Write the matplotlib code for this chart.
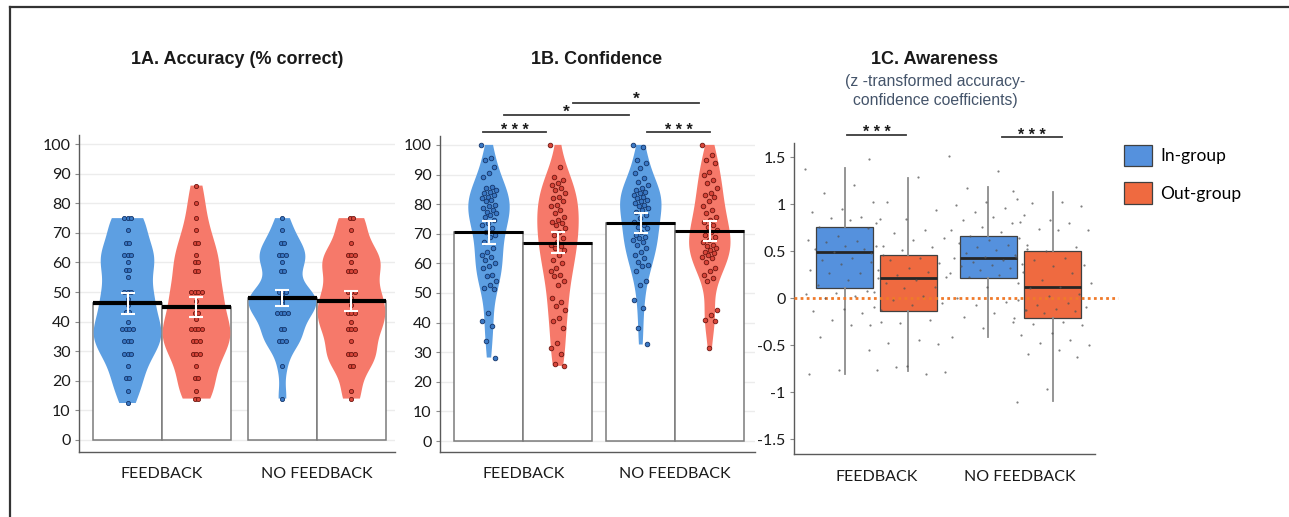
import matplotlib
matplotlib.use('Agg')
import matplotlib.pyplot as plt
import numpy as np
from matplotlib.lines import Line2D
from matplotlib.patches import Patch

plt.rcParams['font.family'] = ['Lato', 'DejaVu Sans']

# ---------------- data ----------------
conditions = ['FEEDBACK', 'NO FEEDBACK']
groups = ['In-group', 'Out-group']

# 1A. Accuracy (% correct) - individual participants
acc_fb_in = [75, 75, 75, 71, 66.7, 66.7, 62.5, 62.5, 62.5, 60, 57.5, 57.5, 55, 50, 50, 50,
             47.5, 45.8, 43.3, 43.3, 40, 37.5, 37.5, 37.5, 37.5, 33.3, 33.3, 33.3,
             29.2, 29.2, 29.2, 25, 20.8, 20.8, 16.7, 12.5]
acc_fb_out = [86, 80, 75, 71, 66.7, 66.7, 62.5, 60, 60, 57, 57, 50, 50, 50, 50, 47, 43, 43,
              41, 37.5, 37.5, 37.5, 37.5, 33.3, 33.3, 33.3, 29, 29, 29, 25, 20.8, 20.8,
              16.7, 14, 14]
acc_nf_in = [75, 71, 66.7, 66.7, 62.5, 62.5, 62.5, 60, 57, 57, 50, 50, 50, 49, 48, 47, 46,
             43, 43, 43, 43, 37.5, 37.5, 33.3, 33.3, 33.3, 25, 14]
acc_nf_out = [75, 75, 71, 66.7, 62.5, 62.5, 62.5, 60, 57, 57, 57, 50, 50, 50, 48, 45.8, 43,
              43, 43, 40, 37.5, 37.5, 37.5, 33.3, 29, 29, 29, 25, 25, 16.7, 14]
acc_means = [46.2, 45.0, 48.0, 47.0]      # FB in, FB out, NF in, NF out
acc_se = [3.6, 3.5, 2.6, 3.5]

# 1B. Confidence - individual participants
conf_fb_in = [100, 95.5, 94.9, 92.7, 90.4, 89.3, 85.9, 85.4, 84.8, 84.2, 83.7, 83.1, 82.5,
              82.0, 81.4, 80.9, 79.7, 79.2, 78.6, 78.0, 77.5, 76.9, 76.3, 75.8, 74.6, 73.5,
              72.9, 71.8, 70.7, 69.6, 69.0, 67.3, 65.1, 64.0, 62.9, 62.3, 61.2, 60.1, 59.0,
              58.4, 56.2, 55.6, 53.9, 52.8, 51.7, 51.2, 43.3, 40.5, 38.8, 33.8, 28.2]
conf_fb_out = [100, 92.7, 89.3, 88.2, 87.1, 86.5, 85.4, 84.8, 83.7, 82.5, 82.0, 80.9, 79.7,
               79.2, 78.0, 76.9, 75.8, 74.6, 74.1, 73.5, 72.9, 71.8, 70.7, 69.6, 68.5, 67.3,
               66.2, 65.7, 65.1, 64.6, 62.9, 61.2, 60.1, 58.4, 57.3, 56.2, 55.6, 53.9, 52.8,
               48.3, 47.1, 45.5, 44.3, 41.6, 40.5, 38.2, 33.2, 31.5, 29.3, 25.9, 25.4]
conf_nf_in = [100, 99.4, 94.9, 93.8, 92.1, 90.4, 88.7, 87.6, 86.5, 85.4, 84.8, 84.2, 83.7,
              83.1, 82.5, 82.0, 81.4, 80.9, 80.3, 79.7, 79.2, 78.6, 78.0, 77.5, 76.3, 75.2,
              74.1, 72.9, 72.4, 71.8, 70.7, 69.6, 69.0, 68.5, 67.9, 67.3, 66.2, 65.1, 64.0,
              62.9, 61.8, 60.6, 59.5, 59.0, 57.3, 53.9, 52.8, 47.7, 44.9, 38.2, 32.6]
conf_nf_out = [100, 96.6, 94.9, 93.8, 91.0, 89.9, 88.2, 87.1, 85.4, 83.7, 83.1, 82.5, 80.9,
               79.2, 78.0, 76.9, 75.8, 74.6, 74.1, 72.9, 72.4, 71.3, 70.7, 69.6, 69.0, 67.9,
               67.3, 66.2, 65.7, 65.1, 64.6, 64.0, 63.4, 62.9, 62.3, 61.8, 60.6, 58.4, 57.3,
               56.2, 55.1, 53.9, 44.3, 42.6, 40.9, 40.4, 31.4]
conf_means = [70.5, 67.0, 73.7, 71.0]
conf_se = [3.8, 3.6, 3.3, 3.3]

# 1C. Awareness - box statistics and individual participants
aw_q1 = [0.106, -0.135, 0.213, -0.207]
aw_med = [0.49, 0.22, 0.426, 0.124]
aw_q3 = [0.756, 0.461, 0.667, 0.50]
aw_lo = [-0.81, -0.775, -0.41, -1.09]
aw_hi = [1.39, 1.28, 1.18, 1.13]
aw_fb_in = [1.38, 1.21, 1.12, 1.02, 0.95, 0.92, 0.87, 0.85, 0.84, 0.83, 0.76, 0.75, 0.66,
            0.62, 0.61, 0.60, 0.56, 0.56, 0.53, 0.52, 0.49, 0.46, 0.43, 0.41, 0.39, 0.37,
            0.30, 0.27, 0.27, 0.22, 0.20, 0.14, 0.08, 0.06, 0.05, 0.02, 0.0, -0.09, -0.11,
            -0.13, -0.16, -0.23, -0.25, -0.28, -0.41, -0.55, -0.76, -0.81]
aw_fb_out = [1.48, 1.29, 1.03, 0.94, 0.84, 0.80, 0.73, 0.69, 0.64, 0.62, 0.56, 0.55, 0.51,
             0.48, 0.43, 0.41, 0.38, 0.32, 0.30, 0.28, 0.25, 0.23, 0.20, 0.16, 0.12, 0.11,
             0.07, 0.02, -0.02, -0.05, -0.07, -0.12, -0.23, -0.26, -0.28, -0.44, -0.48,
             -0.49, -0.72, -0.76, -0.81, -0.73, -0.78]
aw_nf_in = [1.52, 1.35, 1.17, 1.06, 1.03, 0.99, 0.96, 0.92, 0.89, 0.87, 0.83, 0.80, 0.76,
            0.73, 0.71, 0.66, 0.64, 0.62, 0.59, 0.57, 0.55, 0.53, 0.51, 0.48, 0.46, 0.44,
            0.43, 0.41, 0.39, 0.37, 0.36, 0.34, 0.32, 0.30, 0.27, 0.25, 0.23, 0.16, 0.12,
            0.0, -0.04, -0.07, -0.12, -0.16, -0.20, -0.25, -0.32, -0.41]
aw_nf_out = [1.14, 1.03, 1.01, 0.98, 0.83, 0.81, 0.80, 0.74, 0.73, 0.73, 0.57, 0.55, 0.50,
             0.44, 0.43, 0.41, 0.36, 0.34, 0.28, 0.27, 0.20, 0.16, 0.12, 0.11, 0.05, 0.02,
             -0.02, -0.05, -0.07, -0.09, -0.11, -0.12, -0.14, -0.16, -0.21, -0.25, -0.27,
             -0.28, -0.37, -0.39, -0.44, -0.48, -0.50, -0.55, -0.59, -0.62, -0.96, -1.10]

pct_ticks = [0, 10, 20, 30, 40, 50, 60, 70, 80, 90, 100]
aw_ticks = [1.5, 1, 0.5, 0, -0.5, -1, -1.5]
aw_ticklabels = ['1.5', '1', '0.5', '0', '-0.5', '-1', '-1.5']

titles = ['1A. Accuracy (% correct)', '1B. Confidence', '1C. Awareness']
subtitle = ['(z -transformed accuracy-', 'confidence coefficients)']

# ---------------- styles ----------------
W, H = 1289, 517
V_BLUE, V_RED = '#5d9fe2', '#f6796a'
P_BLUE, P_BLUE_E = '#3a78c4', '#14356a'
P_RED, P_RED_E = '#d8463a', '#6e1610'
B_BLUE, B_ORANGE = '#5591dd', '#ef6a40'
TXT = '#1a1a1a'
TICK_FS = 11.5

fig = plt.figure(figsize=(W / 100, H / 100), dpi=100)
fig.patch.set_facecolor('white')


def px_axes(l, r, t, b):
    return fig.add_axes([l / W, 1 - b / H, (r - l) / W, (b - t) / H])


def style_axes(ax):
    for s in ['top', 'right']:
        ax.spines[s].set_visible(False)
    for s in ['left', 'bottom']:
        ax.spines[s].set_color('#5a5a5a')
        ax.spines[s].set_linewidth(1.0)
    ax.tick_params(axis='y', length=3, width=0.8, color='#8a8a8a', labelsize=TICK_FS,
                   labelcolor=TXT, pad=3)
    ax.tick_params(axis='x', length=0, labelsize=TICK_FS, labelcolor=TXT, pad=11)


def swarm_offsets(vals, step):
    vals = np.asarray(vals, dtype=float)
    offs = np.zeros(len(vals))
    for v in np.unique(vals):
        idx = np.where(vals == v)[0]
        k = len(idx)
        offs[idx] = (np.arange(k) - (k - 1) / 2) * step
    return offs


def jitter_offsets(n, spread):
    return ((np.arange(n) * 0.6180339887) % 1 - 0.5) * spread


def violin_panel(ax, datasets, means, ses, pos, vwidth, bw, swarm, mean_lw, psize):
    colors = [V_BLUE, V_RED, V_BLUE, V_RED]
    pcols = [(P_BLUE, P_BLUE_E), (P_RED, P_RED_E)] * 2
    ax.bar(pos, means, width=1.0, color='white', edgecolor='#7a7a7a', linewidth=1.1, zorder=1)
    vp = ax.violinplot(datasets, positions=pos, widths=vwidth, showextrema=False,
                       bw_method=bw)
    for body, c in zip(vp['bodies'], colors):
        body.set_facecolor(c)
        body.set_edgecolor('none')
        body.set_alpha(1)
        body.set_zorder(2)
    for d, p, (fc, ec) in zip(datasets, pos, pcols):
        if swarm:
            off = swarm_offsets(d, 0.055)
        else:
            off = jitter_offsets(len(d), 0.22)
        ax.scatter(p + off, d, s=psize, facecolor=fc, edgecolor=ec, linewidth=0.6, zorder=3)
    ax.hlines(means, np.asarray(pos) - 0.5, np.asarray(pos) + 0.5, colors='black',
              linewidth=mean_lw, zorder=4)
    ax.errorbar(pos, means, yerr=ses, fmt='none', ecolor='white', elinewidth=1.5,
                capsize=5, capthick=1.5, zorder=5)
    ax.set_yticks(pct_ticks)
    ax.yaxis.grid(True, color='#ececec', linewidth=1.0)
    ax.set_axisbelow(True)


def sig(ax, x0, x1, y, text, ty, fs):
    ax.plot([x0, x1], [y, y], color='#3a3a3a', linewidth=1.3, clip_on=False, zorder=6)
    ax.text((x0 + x1) / 2, ty, text, ha='center', va='baseline', fontsize=fs,
            family='Liberation Sans', fontweight='bold', color=TXT, clip_on=False)


# ---------------- panel A ----------------
posA = [0, 1, 2.246, 3.246]
axA = px_axes(79, 395, 135, 452)
style_axes(axA)
violin_panel(axA, [acc_fb_in, acc_fb_out, acc_nf_in, acc_nf_out], acc_means, acc_se,
             posA, 0.98, 0.3, True, 3.0, 9)
axA.set_xlim(-0.703, 3.877)
axA.set_ylim(-4.06, 103.1)
axA.set_xticks([0.5, 2.746])
axA.set_xticklabels(conditions)

# ---------------- panel B ----------------
posB = [0, 1, 2.2, 3.2]
axB = px_axes(440, 755, 136, 452)
style_axes(axB)
violin_panel(axB, [conf_fb_in, conf_fb_out, conf_nf_in, conf_nf_out], conf_means, conf_se,
             posB, 0.6, 0.38, False, 2.2, 11)
axB.set_xlim(-0.71, 3.855)
axB.set_ylim(-3.7, 103.0)
axB.set_xticks([0.5, 2.7])
axB.set_xticklabels(conditions)
sig(axB, -0.087, 0.826, 104.4, '* * *', 103.3, 11.5)
sig(axB, 0.217, 2.03, 110.1, '*', 109.6, 12.5)
sig(axB, 1.217, 3.04, 114.2, '*', 113.8, 12.5)
sig(axB, 2.29, 3.2, 104.4, '* * *', 103.3, 11.5)

# ---------------- panel C ----------------
posC = [0, 1, 2.26, 3.27]
axC = px_axes(794, 1095, 143.3, 454.3)
style_axes(axC)
stats = [dict(med=m, q1=a, q3=b, whislo=lo, whishi=hi, fliers=[])
         for m, a, b, lo, hi in zip(aw_med, aw_q1, aw_q3, aw_lo, aw_hi)]
bp = axC.bxp(stats, positions=posC, widths=0.9, patch_artist=True, showcaps=False,
             showfliers=False,
             boxprops=dict(edgecolor='#404040', linewidth=0.9),
             whiskerprops=dict(color='#8c8c8c', linewidth=1.3),
             medianprops=dict(color='#262626', linewidth=2.0))
for patch, c in zip(bp['boxes'], [B_BLUE, B_ORANGE, B_BLUE, B_ORANGE]):
    patch.set_facecolor(c)
for d, p in zip([aw_fb_in, aw_fb_out, aw_nf_in, aw_nf_out], posC):
    off = jitter_offsets(len(d), 1.25)
    axC.scatter(p + off, d, s=2.5, color='#555555', alpha=0.75, linewidth=0, zorder=4)
axC.set_xlim(-0.797, 3.935)
axC.set_ylim(-1.66, 1.65)
axC.plot([-0.797, 4.30], [0, 0], color='#f07a2a', linestyle=(0, (1, 1.2)), linewidth=2.0,
         clip_on=False, zorder=3)
axC.set_yticks(aw_ticks)
axC.set_yticklabels(aw_ticklabels)
axC.set_xticks([0.5, 2.76])
axC.set_xticklabels(conditions)
sig(axC, 0.04, 0.97, 1.74, '* * *', 1.715, 11.5)
sig(axC, 2.48, 3.41, 1.715, '* * *', 1.69, 11.5)

# legend
handles = [Patch(facecolor=B_BLUE, edgecolor='#404040', linewidth=0.9),
           Patch(facecolor=B_ORANGE, edgecolor='#404040', linewidth=0.9)]
fig.legend(handles, groups, loc='upper left', bbox_to_anchor=(1122 / W, 1 - 143 / H),
           frameon=False, fontsize=12.5, handlelength=1.65, handleheight=1.55,
           handletextpad=0.45, labelspacing=0.9, borderaxespad=0, borderpad=0.1)

# ---------------- titles ----------------
fig.text(237 / W, 1 - 60 / H, titles[0], ha='center', va='center', fontsize=13,
         fontweight='bold', family='Liberation Sans', color=TXT)
fig.text(597 / W, 1 - 60 / H, titles[1], ha='center', va='center', fontsize=13,
         fontweight='bold', family='Liberation Sans', color=TXT)
fig.text(935 / W, 1 - 60 / H, titles[2], ha='center', va='center', fontsize=13,
         fontweight='bold', family='Liberation Sans', color=TXT)
fig.text(935 / W, 1 - 81.5 / H, subtitle[0], ha='center', va='center', fontsize=11.3,
         family='Liberation Sans', color='#44546a')
fig.text(935 / W, 1 - 101 / H, subtitle[1], ha='center', va='center', fontsize=11.3,
         family='Liberation Sans', color='#44546a')

# figure frame (left and top rules)
fig.add_artist(Line2D([9.5 / W, 9.5 / W], [0, 1 - 7 / H], transform=fig.transFigure,
                      color='#333333', linewidth=1.6))
fig.add_artist(Line2D([9.5 / W, 1], [1 - 7 / H, 1 - 7 / H], transform=fig.transFigure,
                      color='#333333', linewidth=1.6))

fig.savefig('out.png', dpi=100, facecolor='white')
